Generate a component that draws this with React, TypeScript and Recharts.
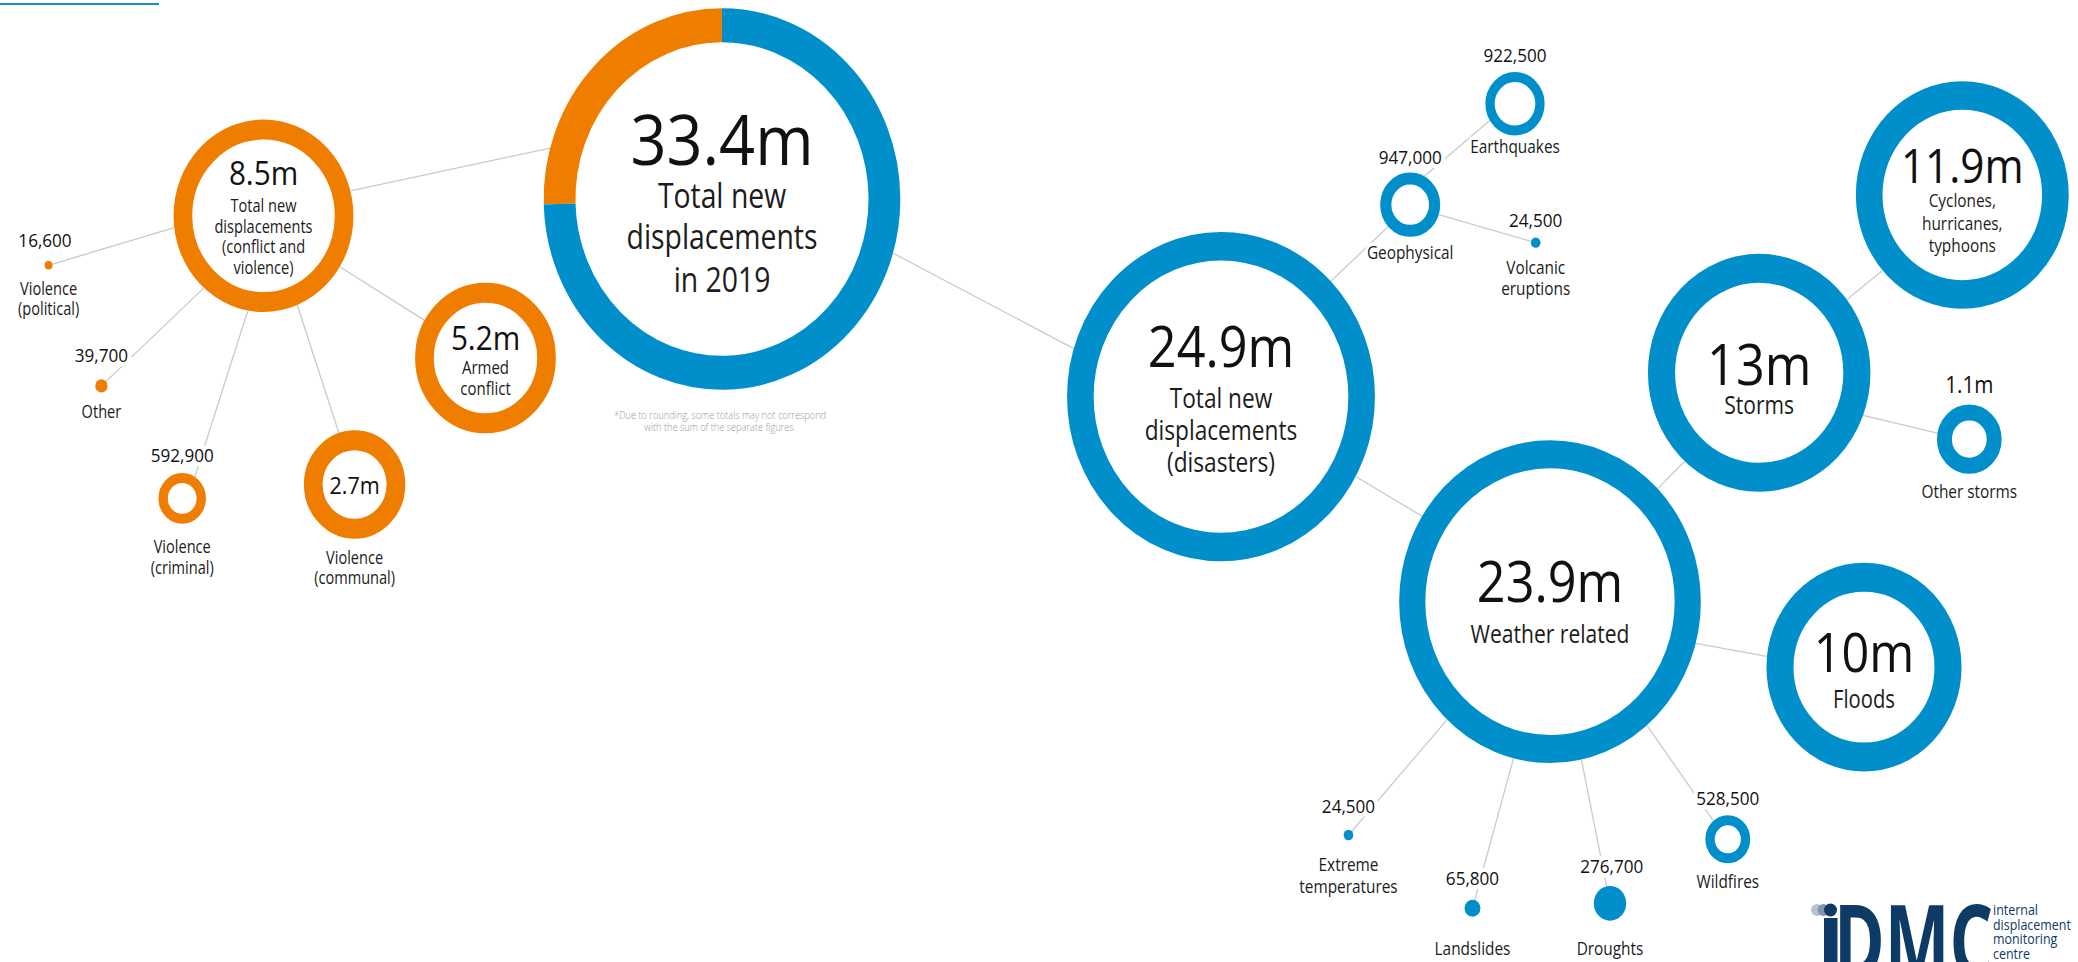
import React from 'react';
import { ScatterChart, Scatter, XAxis, YAxis, ZAxis } from 'recharts';

const W = 2078;
const H = 962;

// ---------------- data ----------------
const nodeIds = [
  'total', 'conflict', 'disasters', 'weather', 'geophysical', 'storms', 'cyclones',
  'otherStorms', 'floods', 'earthquakes', 'volcanic', 'armed', 'communal', 'criminal',
  'otherCV', 'political', 'extreme', 'landslides', 'droughts', 'wildfires',
];
// new displacements, millions
const nodeValues = [
  33.4, 8.5, 24.9, 23.9, 0.947, 13, 11.9,
  1.1, 10, 0.9225, 0.0245, 5.2, 2.7, 0.5929,
  0.0397, 0.0166, 0.0245, 0.0658, 0.2767, 0.5285,
];
const nodeValueLabels = [
  '33.4m', '8.5m', '24.9m', '23.9m', '947,000', '13m', '11.9m',
  '1.1m', '10m', '922,500', '24,500', '5.2m', '2.7m', '592,900',
  '39,700', '16,600', '24,500', '65,800', '276,700', '528,500',
];
const nodeNames = [
  ['Total new', 'displacements', 'in 2019'],
  ['Total new', 'displacements', '(conflict and', 'violence)'],
  ['Total new', 'displacements', '(disasters)'],
  ['Weather related'],
  ['Geophysical'],
  ['Storms'],
  ['Cyclones,', 'hurricanes,', 'typhoons'],
  ['Other storms'],
  ['Floods'],
  ['Earthquakes'],
  ['Volcanic', 'eruptions'],
  ['Armed', 'conflict'],
  ['Violence', '(communal)'],
  ['Violence', '(criminal)'],
  ['Other'],
  ['Violence', '(political)'],
  ['Extreme', 'temperatures'],
  ['Landslides'],
  ['Droughts'],
  ['Wildfires'],
];
const nodeFamily = [
  'split', 'conflict', 'disaster', 'disaster', 'disaster', 'disaster', 'disaster',
  'disaster', 'disaster', 'disaster', 'disaster', 'conflict', 'conflict', 'conflict',
  'conflict', 'conflict', 'disaster', 'disaster', 'disaster', 'disaster',
];
const totalSplitNames = ['Conflict and violence', 'Disasters'];
const totalSplitValues = [8.5, 24.9];

const edgeFrom = [
  'conflict', 'total', 'disasters', 'geophysical', 'geophysical', 'disasters', 'weather',
  'storms', 'storms', 'weather', 'weather', 'weather', 'weather', 'weather',
  'conflict', 'conflict', 'conflict', 'conflict', 'conflict',
];
const edgeTo = [
  'total', 'disasters', 'geophysical', 'earthquakes', 'volcanic', 'weather', 'storms',
  'cyclones', 'otherStorms', 'floods', 'extreme', 'landslides', 'droughts', 'wildfires',
  'political', 'otherCV', 'criminal', 'communal', 'armed',
];

const footnoteLines = [
  '*Due to rounding, some totals may not correspond',
  'with the sum of the separate figures.',
];
const logoWord = 'DMC';
const logoLines = ['internal', 'displacement', 'monitoring', 'centre'];

// ---------------- layout ----------------
const nodeX = [
  722, 263.5, 1221, 1550, 1410.2, 1759.2, 1962.3,
  1969.3, 1864, 1515, 1535.7, 485.5, 354.6, 182.2,
  101.4, 48.6, 1348.5, 1472.5, 1610, 1727.8,
];
const nodeY = [
  199, 215.8, 396.7, 601.7, 204.7, 372.8, 195,
  439.2, 667.2, 103.8, 242.7, 358, 484.5, 498.4,
  385.9, 265.3, 835, 908.3, 903.3, 839.3,
];
// attachment angles on the ring (degrees, screen orientation); null = centre
const edgeFromAngle: (number | null)[] = [
  -15, 16.5, -44.5, -62, 18, 29, -44.5,
  -38, 21, 15, 133, 104, 78, 50,
  173, 131.5, 100, 68, 32,
];
const edgeToAngle: (number | null)[] = [
  195.5, 197, 137, 148, null, 212, 132,
  138.5, 190, 186, null, null, null, 230,
  null, null, 302, 252, 210,
];

type LL = {
  numSize: number; numDy: number; nameSize: number; nameDys: number[];
  outside: boolean; namesOutside?: boolean; numDx?: number;
};
const labelLayout: Record<string, LL> = {
  total: { numSize: 70, numDy: -34, nameSize: 35, nameDys: [9, 50, 93], outside: false },
  conflict: { numSize: 33, numDy: -31, nameSize: 18, nameDys: [-4, 17, 37, 58], outside: false },
  disasters: { numSize: 56, numDy: -30, nameSize: 28, nameDys: [11, 43, 75], outside: false },
  weather: { numSize: 56, numDy: 0, nameSize: 26, nameDys: [41], outside: false },
  storms: { numSize: 56, numDy: 12, nameSize: 26, nameDys: [41], outside: false },
  cyclones: { numSize: 47, numDy: -12, nameSize: 19, nameDys: [12, 35, 57], outside: false },
  floods: { numSize: 54, numDy: 4.5, nameSize: 25, nameDys: [41], outside: false },
  armed: { numSize: 33, numDy: -8.5, nameSize: 18.5, nameDys: [15.6, 36.7], outside: false },
  communal: { numSize: 24, numDy: 9.7, nameSize: 18, nameDys: [79.3, 99.5], outside: false, namesOutside: true },
  otherStorms: { numSize: 23, numDy: -46, nameSize: 19, nameDys: [59], outside: true },
  geophysical: { numSize: 19, numDy: -40.7, nameSize: 19, nameDys: [54], outside: true },
  earthquakes: { numSize: 19, numDy: -42, nameSize: 19, nameDys: [49], outside: true },
  volcanic: { numSize: 19, numDy: -16, nameSize: 19, nameDys: [31.3, 52.3], outside: true },
  criminal: { numSize: 19, numDy: -36.7, nameSize: 18, nameDys: [54.3, 75.4], outside: true },
  otherCV: { numSize: 19, numDy: -23.7, nameSize: 18, nameDys: [31.7], outside: true },
  political: { numSize: 19, numDy: -18, nameSize: 18, nameDys: [29.9, 50.2], outside: true, numDx: -3.6 },
  extreme: { numSize: 19, numDy: -21.7, nameSize: 19, nameDys: [36, 58], outside: true },
  landslides: { numSize: 19, numDy: -23.3, nameSize: 19, nameDys: [46.7], outside: true },
  droughts: { numSize: 19, numDy: -30, nameSize: 19, nameDys: [51.7], outside: true, numDx: 1.8 },
  wildfires: { numSize: 19, numDy: -34.3, nameSize: 19, nameDys: [49], outside: true },
};

// ring stroke width (0 = solid dot)
const ringWidth: Record<string, number> = {
  total: 34, conflict: 20, disasters: 28.5, weather: 28, geophysical: 12, storms: 29,
  cyclones: 28.5, otherStorms: 16, floods: 29, earthquakes: 10, volcanic: 0, armed: 20,
  communal: 20, criminal: 10, otherCV: 0, political: 0, extreme: 0, landslides: 0,
  droughts: 0, wildfires: 10,
};

// ---------------- style ----------------
const ORANGE = '#EF7D00';
const BLUE = '#008FCB';
const LINE = '#CACACA';
const NAVY = '#0D3B66';
const FONT = "'Open Sans', 'Noto Sans', 'DejaVu Sans', sans-serif";
const K = 33; // radius = K * sqrt(value in millions)
const ASPECT = 0.935; // horizontal squish of the original artwork
const NUM_SX = 0.9;
const NAME_SX = 0.81;
const Z_MAX = 40;
const Z_RANGE: [number, number] = [0, Math.PI * K * K * Z_MAX];

const famColor = (f: string) => (f === 'conflict' ? ORANGE : BLUE);

function perimeterPoint(id: string, angle: number | null) {
  const i = nodeIds.indexOf(id);
  const r = K * Math.sqrt(nodeValues[i]);
  if (angle === null) return { x: nodeX[i], y: nodeY[i], v: 0 };
  const a = (angle * Math.PI) / 180;
  return { x: nodeX[i] + r * ASPECT * Math.cos(a), y: nodeY[i] + r * Math.sin(a), v: 0 };
}

const EmptyShape = () => <g />;

function arcPath(R: number, a0: number, a1: number) {
  const r0 = (a0 * Math.PI) / 180;
  const r1 = (a1 * Math.PI) / 180;
  const large = Math.abs(a1 - a0) > 180 ? 1 : 0;
  const sweep = a1 > a0 ? 1 : 0;
  return `M ${R * Math.cos(r0)} ${R * Math.sin(r0)} A ${R} ${R} 0 ${large} ${sweep} ${R * Math.cos(r1)} ${R * Math.sin(r1)}`;
}

function txt(key: string, str: string, y: number, size: number, sx: number, weight: number,
  halo: boolean, fill: string, dx = 0, haloW = 9) {
  return (
    <text
      key={key}
      x={dx / sx}
      y={y}
      transform={`scale(${sx},1)`}
      textAnchor="middle"
      fontSize={size}
      fontFamily={FONT}
      fontWeight={weight}
      fill={fill}
      stroke={halo ? '#fff' : 'none'}
      strokeWidth={halo ? haloW : 0}
      strokeLinejoin="round"
      paintOrder="stroke"
    >
      {str}
    </text>
  );
}

const NodeShape = (props: any) => {
  const { cx, cy, payload } = props;
  if (cx == null || cy == null || !payload) return <g />;
  const i = payload.i as number;
  const id = nodeIds[i];
  const r = typeof props.size === 'number' && props.size > 0
    ? Math.sqrt(props.size / Math.PI)
    : K * Math.sqrt(nodeValues[i]);
  const fam = nodeFamily[i];
  const t = ringWidth[id];
  const L = labelLayout[id];

  let ring: React.ReactNode;
  if (fam === 'split') {
    const total = totalSplitValues.reduce((s, v) => s + v, 0);
    let cum = 0;
    const R = r - t / 2;
    ring = (
      <g>
        <circle r={r} fill="#fff" />
        {totalSplitValues.map((v, k) => {
          const a0 = -90 - (360 * cum) / total;
          cum += v;
          const a1 = -90 - (360 * cum) / total;
          return (
            <path key={totalSplitNames[k]} d={arcPath(R, a0, a1)} fill="none"
              stroke={k === 0 ? ORANGE : BLUE} strokeWidth={t} />
          );
        })}
      </g>
    );
  } else if (t === 0) {
    ring = <circle r={r} fill={famColor(fam)} />;
  } else {
    ring = <circle r={r - t / 2} fill="#fff" stroke={famColor(fam)} strokeWidth={t} />;
  }

  const texts: React.ReactNode[] = [];
  texts.push(txt('n', nodeValueLabels[i], L.numDy, L.numSize, NUM_SX, 400, L.outside, '#111', L.numDx || 0));
  nodeNames[i].forEach((s, k) => {
    texts.push(txt('l' + k, s, L.nameDys[k], L.nameSize, NAME_SX, 400,
      L.outside || !!L.namesOutside, '#1c1c1c', 0, 7));
  });

  return (
    <g transform={`translate(${cx},${cy})`}>
      <g transform={`scale(${ASPECT},1)`}>{ring}</g>
      {texts}
    </g>
  );
};

export default function App() {
  const nodes = nodeIds.map((id, i) => ({ id, i, x: nodeX[i], y: nodeY[i], v: nodeValues[i] }));
  const edgeData = edgeFrom.map((f, j) => [
    perimeterPoint(f, edgeFromAngle[j]),
    perimeterPoint(edgeTo[j], edgeToAngle[j]),
  ]);

  return (
    <div style={{ position: 'absolute', left: 0, top: 0, width: W, height: H, background: '#fff', overflow: 'hidden' }}>
      <ScatterChart width={W} height={H} margin={{ top: 0, right: 0, bottom: 0, left: 0 }}>
        <XAxis type="number" dataKey="x" domain={[0, W]} hide allowDataOverflow />
        <YAxis type="number" dataKey="y" domain={[0, H]} reversed hide allowDataOverflow />
        <ZAxis type="number" dataKey="v" domain={[0, Z_MAX]} range={Z_RANGE} />
        {edgeData.map((d, j) => (
          <Scatter
            key={'edge' + j}
            data={d}
            line={{ stroke: LINE, strokeWidth: 1.3 }}
            shape={EmptyShape}
            isAnimationActive={false}
            legendType="none"
          />
        ))}
        <Scatter data={nodes} shape={NodeShape} isAnimationActive={false} legendType="none" />
      </ScatterChart>
      <svg
        width={W}
        height={H}
        style={{ position: 'absolute', left: 0, top: 0, pointerEvents: 'none' }}
      >
        <line x1={0} y1={4} x2={159} y2={4} stroke="#1A8FD0" strokeWidth={2} />
        {footnoteLines.map((s, k) => (
          <text key={s} x={0} y={419 + k * 12.5} transform={`translate(720,0) scale(0.84,1)`}
            textAnchor="middle" fontSize={11} fontFamily={FONT} fontWeight={300} fill="#9a9a9a">
            {s}
          </text>
        ))}
        <circle cx={1817} cy={910} r={6} fill="#B7C3CF" />
        <circle cx={1823.5} cy={910} r={6} fill="#8296AC" />
        <circle cx={1830.5} cy={910} r={6.5} fill={NAVY} />
        <rect x={1824} y={918} width={13.5} height={60} fill={NAVY} />
        <text x={0} y={977} transform={`translate(1834,0) scale(0.68,1)`} textAnchor="start"
          fontSize={101} fontFamily={FONT} fontWeight={700} fill={NAVY}>
          {logoWord}
        </text>
        {logoLines.map((s, k) => (
          <text key={s} x={0} y={915 + k * 14.6} transform={`translate(1993,0) scale(0.83,1)`}
            textAnchor="start" fontSize={15} fontFamily={FONT} fontWeight={400} fill={NAVY}>
            {s}
          </text>
        ))}
      </svg>
    </div>
  );
}
